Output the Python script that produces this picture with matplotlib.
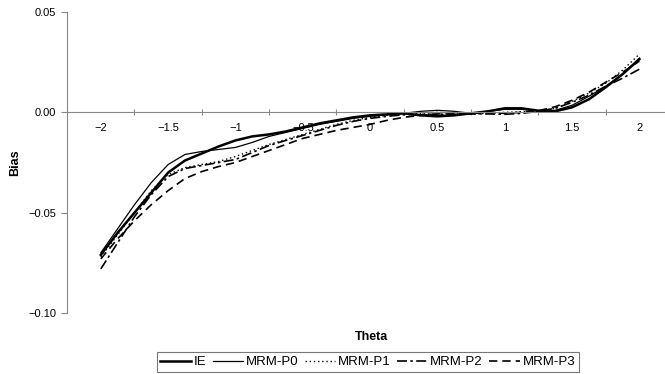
import numpy as np
import matplotlib
matplotlib.use("Agg")
import matplotlib.pyplot as plt

plt.rcParams['font.family'] = ['Liberation Sans', 'DejaVu Sans']

# theta values (read every 0.125)
theta = np.arange(-2, 2.0001, 0.125)

# bias values, in units of 0.001
ie = [-71, -60, -50, -40, -30, -24, -20.5, -17, -14, -12, -11, -9.5, -7.5, -5.5, -4, -2.5, -1.5,
      -1, -0.5, -1.5, -2, -1.5, -0.5, 0.5, 2, 2, 0.8, 0.5, 2.5, 6.5, 12.5, 19, 26.5]
mrm_p0 = [-70, -58, -46, -35, -26, -21, -19.5, -18.5, -17.5, -15, -12, -10, -8, -6, -4.5, -3, -2,
          -1.2, -0.5, 0.5, 1, 0.5, -0.5, 0.5, 1.5, 1.5, 0.5, 1, 3.5, 8, 13, 19, 27]
mrm_p1 = [-72, -61, -50, -39, -31, -27.5, -26, -24.5, -22, -19, -16, -13.5, -11, -8.5, -6, -4, -2.5,
          -1.5, -1, -0.5, 0, -0.5, -0.8, -0.5, 0, 0.3, 0.5, 2, 5.5, 9.5, 14.5, 21, 29]
mrm_p2 = [-78, -65, -52, -41, -32, -28, -26.5, -25, -23.5, -20, -16.5, -14, -11.5, -9, -6.5, -4.5, -3,
          -2, -1.2, -1, -1, -1, -0.8, -0.8, -1, -0.5, 0.5, 2, 5, 8.5, 13, 17, 21.5]
mrm_p3 = [-73, -63, -54, -46, -39, -33, -29.5, -27, -25, -22, -19, -16, -13, -11, -9, -7.5, -6,
          -4, -2.5, -1.5, -0.8, -0.8, -0.5, -0.3, -0.5, 0, 0.8, 2.8, 6, 10, 15, 20, 25.5]

labels = ['IE', 'MRM-P0', 'MRM-P1', 'MRM-P2', 'MRM-P3']
series = [ie, mrm_p0, mrm_p1, mrm_p2, mrm_p3]
styles = [('-', 1.8), ('-', 0.9), ((0, (1, 2)), 1.0), ((0, (6, 2, 1.5, 2)), 1.2), ((0, (5, 3)), 1.2)]

fig = plt.figure(figsize=(6.65, 3.74), dpi=100)
ax = fig.add_axes([0.101, 0.163, 0.899, 0.805])

for vals, (ls, lw), lab in zip(series, styles, labels):
    ax.plot(theta, np.array(vals) / 1000.0, color='black', linestyle=ls, linewidth=lw, label=lab)

ax.set_xlim(-2.25, 2.19)
ax.set_ylim(-0.10, 0.05)

ax.spines['top'].set_visible(False)
ax.spines['right'].set_visible(False)
ax.spines['bottom'].set_position(('data', 0))
ax.spines['bottom'].set_color('#888888')
ax.spines['left'].set_color('#888888')

ax.set_yticks([-0.10, -0.05, 0.00, 0.05])
ax.set_yticklabels(['\u22120.10', '\u22120.05', '0.00', '0.05'])
ax.tick_params(axis='y', direction='out', length=4, color='#888888', labelsize=8, pad=4)

# ticks between labels, labels without tick marks
ax.set_xticks(np.arange(-1.75, 1.8, 0.5))
ax.set_xticklabels([])
ax.tick_params(axis='x', which='major', direction='inout', length=5, color='#888888')
xlab = [-2, -1.5, -1, -0.5, 0, 0.5, 1, 1.5, 2]
ax.set_xticks(xlab, minor=True)
ax.set_xticklabels(['\u22122', '\u22121.5', '\u22121', '\u22120.5', '0', '0.5', '1', '1.5', '2'], minor=True)
ax.tick_params(axis='x', which='minor', length=0, labelsize=8, pad=8)

fig.text(0.022, 0.565, 'Bias', rotation=90, fontsize=9, fontweight='bold', ha='center', va='center')
fig.text(0.558, 0.098, 'Theta', fontsize=9, fontweight='bold', ha='center', va='center')

leg = fig.legend(loc='center', bbox_to_anchor=(0.553, 0.032), ncol=5, fontsize=9.5, frameon=True,
                 fancybox=False, edgecolor='#555555', handlelength=2.3, handletextpad=0.2,
                 columnspacing=0.5, borderpad=0.3)
leg.get_frame().set_linewidth(0.8)

fig.savefig('out.png', dpi=100)
